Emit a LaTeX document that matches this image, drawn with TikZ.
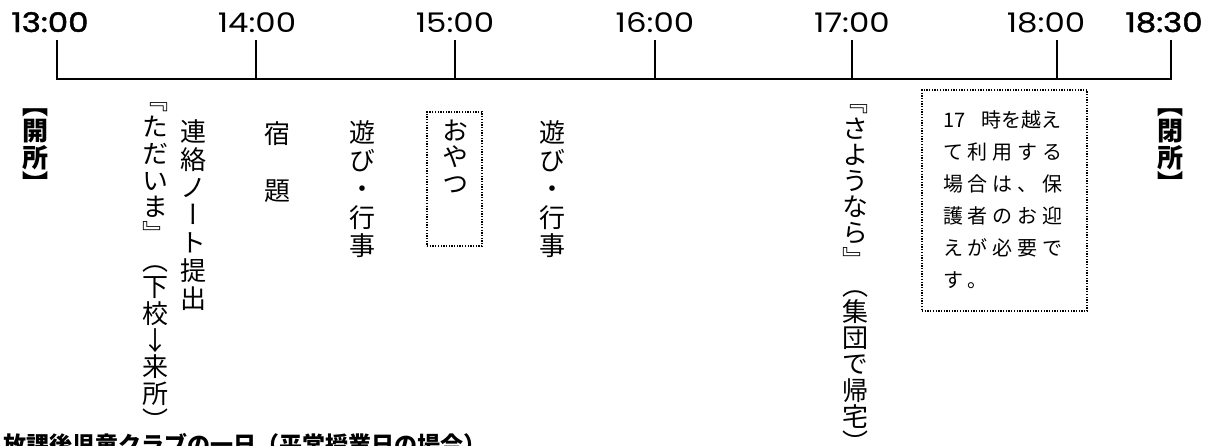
\documentclass[tikz,border=0pt]{standalone}
\usepackage{fontspec}
\usepackage{graphicx}
\setmainfont{Noto Sans CJK JP}
\newfontfamily\jp{Noto Sans CJK JP}
\newfontfamily\jpv[RawFeature=+vert]{Noto Sans CJK JP}
\newfontfamily\num{Poppins}
\newfontfamily\numb[FakeBold=1.6]{Poppins}
\newlength\tpitch
\makeatletter
\newcommand\tate[2]{\setlength\tpitch{#1}\vbox{\offinterlineskip\tate@#2\relax}}
\def\tate@#1{\ifx\relax#1\else\tate@cell{#1}\expandafter\tate@\fi}
\def\tate@cell#1{\hbox to 1em{\hss\vbox to\tpitch{\vss\hbox{\vrule height .88em depth .12em width 0pt #1}\vss}\hss}}
\makeatother
\newcommand\ls{\hspace{4.75pt}}
\newcommand\wide[1]{\scalebox{1.2}[1]{#1}}
\begin{document}
\begin{tikzpicture}[x=1pt,y=-1pt,
  axisline/.style={line width=1.8pt},
  timelbl/.style={anchor=base, inner sep=0pt, font=\num\fontsize{27}{30}\selectfont},
  timebold/.style={anchor=base, inner sep=0pt, font=\numb\fontsize{27}{30}\selectfont},
  tatecol/.style={anchor=north, inner sep=0pt, font=\jpv\fontsize{26}{26}\selectfont},
  tatebold/.style={anchor=north, inner sep=0pt, font=\jpv\bfseries\fontsize{26}{26}\selectfont},
  dotbox/.style={draw, line width=1.4pt, dash pattern=on 1.3pt off 1.4pt, inner sep=0pt},
  noteline/.style={anchor=base west, inner sep=0pt, font=\jp\fontsize{20}{32}\selectfont},
  titlelbl/.style={anchor=base west, inner sep=0pt, font=\jp\bfseries\fontsize{23}{23}\selectfont}]
\useasboundingbox (0,0) rectangle (1230,445);
\clip (0,0) rectangle (1230,445);
\fill[white] (0,0) rectangle (1230,445);

% time labels
\node[timebold] (l13) at (50,32) {\wide{13:00}};
\node[timelbl] (l14) at (257,32) {\wide{14:00}};
\node[timelbl] (l15) at (455,32) {\wide{15:00}};
\node[timelbl] (l16) at (655,32) {\wide{16:00}};
\node[timelbl] (l17) at (852,32) {\wide{17:00}};
\node[timelbl] (l18) at (1046,32) {\wide{18:00}};
\node[timebold] (l1830) at (1164,32) {\wide{18:30}};

% axis
\coordinate (k13) at (57,40);   \coordinate (a13) at (57,79);
\coordinate (k14) at (256,40);  \coordinate (a14) at (256,79);
\coordinate (k15) at (455,40);  \coordinate (a15) at (455,79);
\coordinate (k16) at (655,40);  \coordinate (a16) at (655,79);
\coordinate (k17) at (852,40);  \coordinate (a17) at (852,79);
\coordinate (k18) at (1057,40); \coordinate (a18) at (1057,79);
\coordinate (k1830) at (1171,40); \coordinate (a1830) at (1171,79);
\draw[axisline, line join=miter] (k13) -- (a13) -- (a1830) -- (k1830);
\draw[axisline] (k14) -- (a14);
\draw[axisline] (k15) -- (a15);
\draw[axisline] (k16) -- (a16);
\draw[axisline] (k17) -- (a17);
\draw[axisline] (k18) -- (a18);

% vertical columns
\node[tatebold] (kaisho) at (35,91) {\tate{26.5pt}{【開所】}};
\node[tatecol] (tadaima) at (155,86.5) {\tate{26.7pt}{『ただいま』（下校↓来所）}};
\node[tatecol] (renraku) at (193,117.6) {\tate{27.8pt}{連絡ノート提出}};
\node[tatecol] (shukudai) at (277,119.4) {\tate{28.25pt}{宿　題}};
\node[tatecol] (asobi1) at (362,117.9) {\tate{28.3pt}{遊び・行事}};
\node[dotbox, minimum width=55pt, minimum height=134pt] (oyatsubox) at (454.5,179) {};
\node[tatecol] (oyatsu) at (455,116.6) {\tate{26.75pt}{おやつ}};
\node[tatecol] (asobi2) at (552,117.9) {\tate{28.3pt}{遊び・行事}};
\node[tatecol] (sayonara) at (855,88.7) {\tate{26.2pt}{『さようなら』（集団で帰宅）}};
\node[tatebold] (heisho) at (1170,91) {\tate{26.5pt}{【閉所】}};

% note box
\node[dotbox, minimum width=165pt, minimum height=221pt] (notebox) at (1004.5,200.5) {};
\node[noteline] (n1) at (943,127) {17\hspace{16pt}時を越え};
\node[noteline] (n2) at (943,159) {て\ls 利\ls 用\ls す\ls る};
\node[noteline] (n3) at (943,191) {場\ls 合\ls は\ls 、\ls 保};
\node[noteline] (n4) at (943,223) {護\ls 者\ls の\ls お\ls 迎};
\node[noteline] (n5) at (943,255) {え\ls が\ls 必\ls 要\ls で};
\node[noteline] (n6) at (943,287) {す\ls 。};

% title (cut by the lower edge)
\node[titlelbl] (title) at (3,453) {放課後児童クラブの一日（平常授業日の場合）};
\end{tikzpicture}
\end{document}
